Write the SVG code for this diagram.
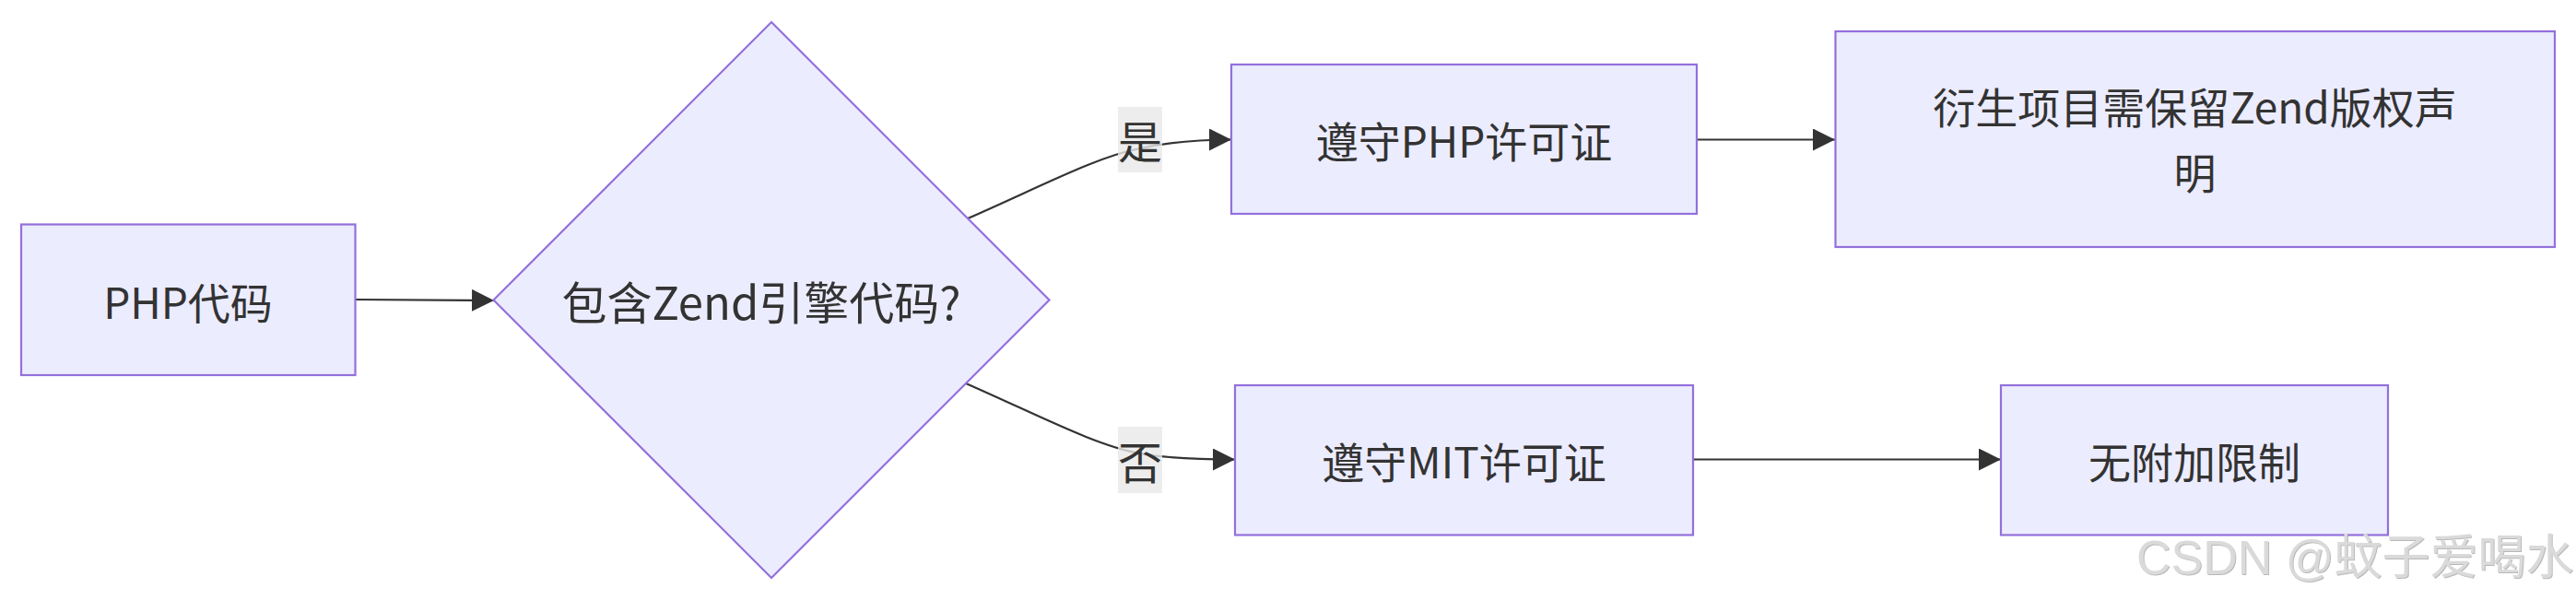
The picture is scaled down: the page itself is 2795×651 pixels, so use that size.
<svg xmlns="http://www.w3.org/2000/svg" width="2795" height="651" viewBox="0 0 2795 651">
<style>
.node rect, .node polygon { fill: #ECECFF; stroke: #9370DB; stroke-width: 2.2; }
.lbl { font-family: "Noto Sans CJK SC", "Noto Sans", sans-serif; font-size: 46px; fill: #333333; text-anchor: middle; dominant-baseline: central; }
.big { font-size: 49px; }
.el { font-size: 48px; }
.edge { fill: none; stroke: #333333; stroke-width: 2.2; }
.elbg { fill: rgba(232,232,232,0.8); }
.wm { font-family: "Liberation Sans", "Noto Sans CJK SC", sans-serif; font-size: 52px; fill: #dadada; }
</style>
<defs>
<marker id="arrow" viewBox="0 0 10 10" refX="10" refY="5" markerUnits="userSpaceOnUse" markerWidth="24" markerHeight="24" orient="auto">
<path d="M0,0 L10,5 L0,10 z" fill="#333333"/>
</marker>
<filter id="sh" x="-5%" y="-20%" width="110%" height="140%">
<feDropShadow dx="1" dy="1" stdDeviation="0.6" flood-color="#9a9a9a" flood-opacity="0.7"/>
</filter>
</defs>
<rect width="2795" height="651" fill="#ffffff"/>
<g id="edges">
<path class="edge" d="M385,325 L536,326" marker-end="url(#arrow)"/>
<path class="edge" d="M1050,237 C1130,202 1190,170 1237,161 C1265,155 1300,151.5 1336,151.5" marker-end="url(#arrow)"/>
<path class="edge" d="M1048,416 C1130,452 1190,484 1237,492 C1265,497 1300,498.5 1340,498.5" marker-end="url(#arrow)"/>
<path class="edge" d="M1841,151.5 L1991,151.5" marker-end="url(#arrow)"/>
<path class="edge" d="M1837,498.5 L2171,498.5" marker-end="url(#arrow)"/>
</g>
<g id="edge-labels">
<g id="label-yes">
<rect class="elbg" x="1213" y="116" width="48" height="71"/>
<text class="lbl el" x="1237" y="151">是</text>
</g>
<g id="label-no">
<rect class="elbg" x="1213" y="463" width="48" height="72"/>
<text class="lbl el" x="1237" y="499">否</text>
</g>
</g>
<g id="node-A" class="node">
<rect x="23" y="243.5" width="362.5" height="163.5"/>
<text class="lbl" x="204" y="325.5">PHP代码</text>
</g>
<g id="node-B" class="node">
<polygon points="837,24 1138.5,325.5 837,627 535.5,325.5"/>
<text class="lbl big" x="826" y="325">包含Zend引擎代码?</text>
</g>
<g id="node-C" class="node">
<rect x="1336" y="70" width="505" height="162"/>
<text class="lbl" x="1588.5" y="151">遵守PHP许可证</text>
</g>
<g id="node-E" class="node">
<rect x="1991.5" y="34" width="780.5" height="234"/>
<text class="lbl" x="2381.5" y="113.5">衍生项目需保留Zend版权声</text>
<text class="lbl" x="2381.5" y="185">明</text>
</g>
<g id="node-D" class="node">
<rect x="1340" y="418" width="497" height="162.5"/>
<text class="lbl" x="1588.5" y="499">遵守MIT许可证</text>
</g>
<g id="node-F" class="node">
<rect x="2171" y="418" width="420" height="162.5"/>
<text class="lbl" x="2381" y="499">无附加限制</text>
</g>
<text class="wm" x="2318" y="623" filter="url(#sh)">CSDN @蚊子爱喝水</text>
</svg>
